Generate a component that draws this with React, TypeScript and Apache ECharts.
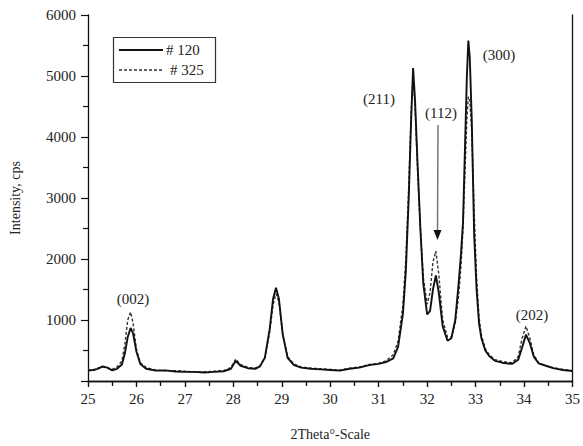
import React, { useEffect, useRef } from "react";
import * as echarts from "echarts";

const twoTheta = [
  25.0, 25.1, 25.2, 25.3, 25.4, 25.5, 25.6, 25.7, 25.76, 25.82, 25.88, 25.93, 26.0, 26.08, 26.2, 26.4, 26.6, 26.8,
  27.0, 27.2, 27.4, 27.6, 27.8, 27.95, 28.05, 28.15, 28.3, 28.45, 28.55, 28.65, 28.75, 28.82, 28.88, 28.94, 29.02,
  29.12, 29.25, 29.4, 29.6, 29.8, 30.0, 30.2, 30.4, 30.6, 30.8, 31.0, 31.15, 31.3, 31.4, 31.5, 31.56, 31.62, 31.67,
  31.71, 31.75, 31.8, 31.86, 31.92, 32.0, 32.06, 32.12, 32.18, 32.24, 32.32, 32.42, 32.5, 32.58, 32.65, 32.7, 32.74,
  32.78, 32.82, 32.85, 32.88, 32.92, 32.97, 33.02, 33.07, 33.12, 33.2, 33.28, 33.4, 33.55, 33.75, 33.88, 33.96,
  34.04, 34.12, 34.2, 34.3, 34.45, 34.6, 34.8, 35.0,
];

const intensity120 = [
  170, 180, 200, 240, 220, 175, 200, 270, 450, 720, 870, 780, 480, 280, 200, 170, 175, 155,
  150, 150, 140, 150, 160, 200, 330, 250, 210, 200, 240, 380, 850, 1350, 1530, 1350, 760,
  380, 260, 220, 200, 190, 180, 170, 200, 220, 260, 280, 310, 370, 560, 1100, 1800, 3000, 4300,
  5130, 4600, 3600, 2500, 1600, 1090, 1150, 1500, 1730, 1450, 900, 660, 700, 1000, 1600, 2100, 2600,
  3800, 5000, 5580, 5300, 4300, 2400, 1500, 950, 700, 500, 410, 330, 300, 280, 350, 550,
  760, 620, 400, 290, 250, 210, 180, 165,
];

const intensity325 = [
  190, 170, 210, 230, 210, 190, 230, 330, 600, 1000, 1130, 950, 520, 300, 220, 180, 170, 170,
  160, 150, 150, 160, 170, 220, 360, 270, 220, 210, 250, 380, 800, 1250, 1430, 1300, 760,
  400, 280, 230, 210, 200, 190, 180, 210, 230, 270, 290, 330, 430, 650, 1250, 2000, 3200, 4400,
  5000, 4500, 3500, 2500, 1700, 1260, 1450, 1950, 2130, 1750, 1000, 720, 720, 950, 1400, 1900, 2500,
  3400, 4300, 4660, 4600, 4100, 2800, 1700, 1050, 750, 530, 430, 350, 320, 300, 400, 700,
  900, 700, 430, 300, 250, 220, 190, 170,
];

const seriesNames = ["# 120", "# 325"];
const peakLabels = ["(002)", "(211)", "(112)", "(300)", "(202)"];

const FONT = "'Liberation Serif', 'DejaVu Serif', serif";

export default function App() {
  const ref = useRef<HTMLDivElement>(null);
  useEffect(() => {
    if (!ref.current) return;
    const chart = echarts.init(ref.current, undefined, { renderer: "svg" });
    const pairs = (ys: number[]) => twoTheta.map((x, i) => [x, ys[i]]);
    const textStyle = { fontFamily: FONT, fontSize: 15, color: "#222" };
    const lbl = (text: string, x: number, y: number, align = "center") => ({
      type: "text",
      x,
      y,
      style: { text, fill: "#222", font: `15px ${FONT}`, textAlign: align, textVerticalAlign: "middle" },
    });
    chart.setOption({
      animation: false,
      backgroundColor: "#fff",
      textStyle: { fontFamily: FONT },
      grid: { left: 82, top: 15, right: 8, bottom: 61, containLabel: false },
      xAxis: [
        {
          type: "value",
          min: 25,
          max: 35,
          interval: 1,
          position: "bottom",
          name: "2Theta°-Scale",
          nameLocation: "middle",
          nameGap: 46,
          nameTextStyle: { ...textStyle, fontSize: 14 },
          axisLine: { lineStyle: { color: "#111", width: 1.3 } },
          axisTick: { inside: false, length: 6, lineStyle: { color: "#111", width: 1.2 } },
          minorTick: { show: true, splitNumber: 2, length: 4, lineStyle: { color: "#111", width: 1.2 } },
          axisLabel: { ...textStyle, margin: 10 },
          splitLine: { show: false },
        },
        {
          type: "value",
          min: 25,
          max: 35,
          interval: 1,
          position: "top",
          axisLine: { lineStyle: { color: "#111", width: 1.3 } },
          axisTick: { inside: true, length: 6, lineStyle: { color: "#111", width: 1.2 } },
          minorTick: { show: true, splitNumber: 2, length: 5, lineStyle: { color: "#111", width: 1.2 } },
          axisLabel: { show: false },
          splitLine: { show: false },
        },
      ],
      yAxis: [
        {
          type: "value",
          min: 0,
          max: 6000,
          interval: 1000,
          position: "left",
          name: "Intensity, cps",
          nameLocation: "middle",
          nameGap: 66,
          nameTextStyle: { ...textStyle, fontSize: 14 },
          axisLine: { show: true, lineStyle: { color: "#111", width: 1.3 } },
          axisTick: { show: true, inside: false, length: 7, lineStyle: { color: "#111", width: 1.2 } },
          minorTick: { show: true, splitNumber: 2, length: 5, lineStyle: { color: "#111", width: 1.2 } },
          axisLabel: { ...textStyle, margin: 12, formatter: (v: number) => (v === 0 ? "" : String(v)) },
          splitLine: { show: false },
        },
        {
          type: "value",
          min: 0,
          max: 6000,
          position: "right",
          axisLine: { show: true, lineStyle: { color: "#111", width: 1.3 } },
          axisTick: { show: false },
          axisLabel: { show: false },
          splitLine: { show: false },
        },
      ],
      series: [
        {
          name: seriesNames[0],
          type: "line",
          data: pairs(intensity120),
          symbol: "none",
          smooth: false,
          lineStyle: { color: "#111", width: 1.9 },
          z: 3,
        },
        {
          name: seriesNames[1],
          type: "line",
          data: pairs(intensity325),
          symbol: "none",
          smooth: false,
          lineStyle: { color: "#333", width: 1.4, type: [3, 2] },
          z: 2,
        },
      ],
      graphic: [
        {
          type: "rect",
          shape: { x: 113.5, y: 37.5, width: 102, height: 45 },
          style: { fill: "#fff", stroke: "#333", lineWidth: 1.2 },
          z: 10,
        },
        {
          type: "line",
          shape: { x1: 119, y1: 50, x2: 163, y2: 50 },
          style: { stroke: "#111", lineWidth: 1.9 },
          z: 11,
        },
        {
          type: "line",
          shape: { x1: 119, y1: 70, x2: 163, y2: 70 },
          style: { stroke: "#333", lineWidth: 1.3, lineDash: [3, 2] },
          z: 11,
        },
        { ...lbl(seriesNames[0], 166, 50, "left"), z: 11 },
        { ...lbl(seriesNames[1], 170, 70, "left"), z: 11 },
        lbl(peakLabels[0], 133, 299),
        lbl(peakLabels[1], 379, 99),
        lbl(peakLabels[2], 441, 113),
        lbl(peakLabels[3], 499, 55),
        lbl(peakLabels[4], 532, 315),
        {
          type: "line",
          shape: { x1: 438, y1: 125, x2: 437.5, y2: 232 },
          style: { stroke: "#777", lineWidth: 1.5 },
        },
        {
          type: "polygon",
          shape: { points: [[433.5, 230], [441.5, 230], [437.5, 240]] },
          style: { fill: "#111" },
        },
      ],
    });
    return () => chart.dispose();
  }, []);
  return <div ref={ref} style={{ width: 583, height: 446, position: "absolute", left: 0, top: 0 }} />;
}
